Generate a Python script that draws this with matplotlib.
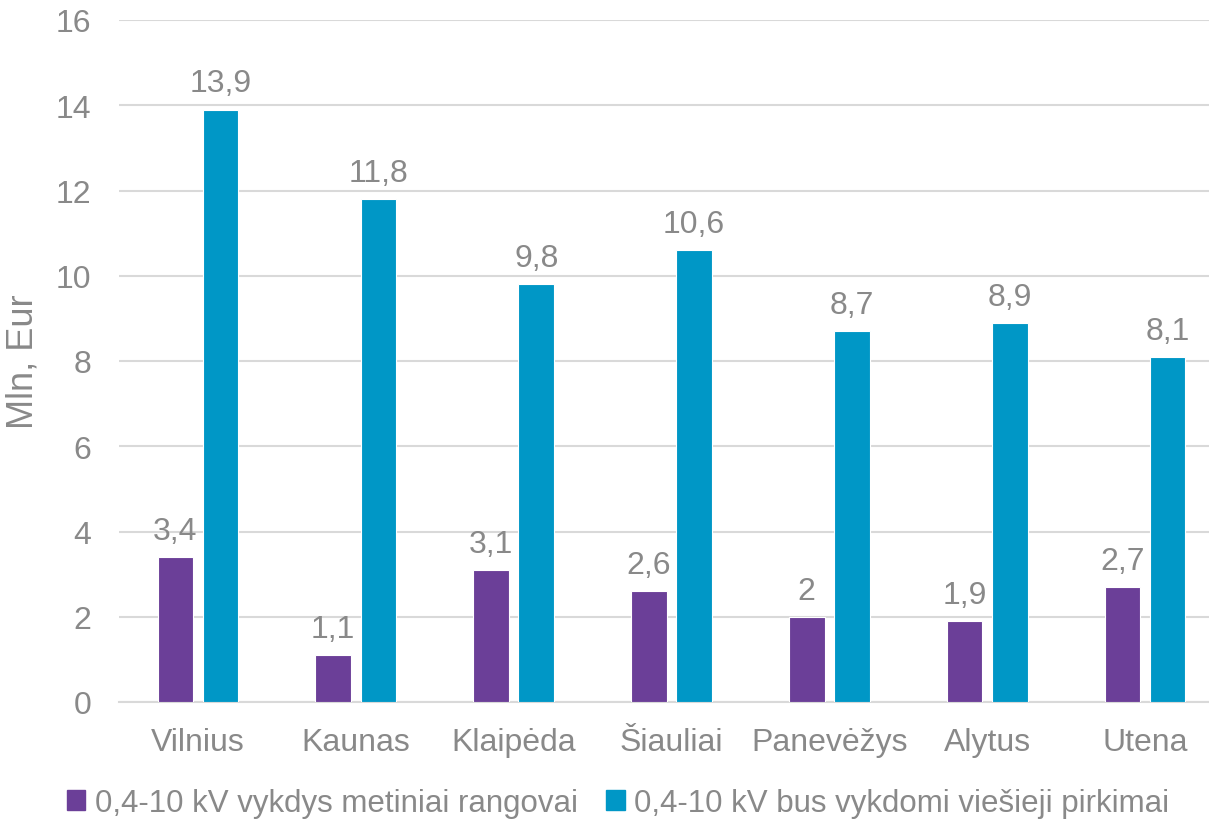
import numpy as np
import matplotlib; matplotlib.use("Agg")
import matplotlib.pyplot as plt
from matplotlib.patches import Patch

cities = ["Vilnius", "Kaunas", "Klaipėda", "Šiauliai", "Panevėžys", "Alytus", "Utena"]
rangovai = [3.4, 1.1, 3.1, 2.6, 2.0, 1.9, 2.7]
pirkimai = [13.9, 11.8, 9.8, 10.6, 8.7, 8.9, 8.1]
labels_r = ["3,4", "1,1", "3,1", "2,6", "2", "1,9", "2,7"]
labels_p = ["13,9", "11,8", "9,8", "10,6", "8,7", "8,9", "8,1"]
series_names = ["0,4-10 kV vykdys metiniai rangovai",
                "0,4-10 kV bus vykdomi viešieji pirkimai"]

PURPLE = "#6B3F98"
BLUE = "#0097C6"
GRAY = "#898989"
GRID = "#D9D9D9"
FS = 23

plt.rcParams["font.family"] = ["Liberation Sans", "DejaVu Sans"]

fig = plt.figure(figsize=(12.09, 8.2), dpi=100)
ax = fig.add_axes([119/1209, 1 - 703/820, 1105/1209, 682/820])

x = np.arange(len(cities))
w = 0.225
off = 0.143
b1 = ax.bar(x - off, rangovai, w, color=PURPLE, edgecolor="white", lw=0.8, zorder=3)
b2 = ax.bar(x + off, pirkimai, w, color=BLUE, edgecolor="white", lw=0.8, zorder=3)
ax.bar_label(b1, labels=labels_r, padding=8, fontsize=FS, color=GRAY)
ax.bar_label(b2, labels=labels_p, padding=8, fontsize=FS, color=GRAY)

ax.set_xlim(-0.5, len(cities) - 0.5)
ax.set_ylim(0, 16)
ax.set_yticks(range(0, 17, 2))
ax.set_xticks(x)
ax.set_xticklabels(cities)
ax.tick_params(axis="both", length=0, labelsize=FS, labelcolor=GRAY)
ax.tick_params(axis="x", pad=18)
ax.tick_params(axis="y", pad=20)
ax.grid(axis="y", color=GRID, lw=1.5, zorder=0)
for s in ["top", "right", "left"]:
    ax.spines[s].set_visible(False)
ax.spines["bottom"].set_color(GRID)
ax.spines["bottom"].set_linewidth(1.5)
ax.set_ylabel("Mln, Eur", fontsize=26, color=GRAY)
ax.yaxis.set_label_coords(-0.071, 0.5)

# legend along the bottom edge
handles = [Patch(color=PURPLE), Patch(color=BLUE)]
fig.legend(handles, series_names, loc="lower center", bbox_to_anchor=(0.511, -0.033),
           ncol=2, frameon=False, fontsize=22.5, labelcolor=GRAY,
           handlelength=0.6, handleheight=0.6, handletextpad=0.3, columnspacing=0.9)

fig.savefig("out.png", dpi=100)
